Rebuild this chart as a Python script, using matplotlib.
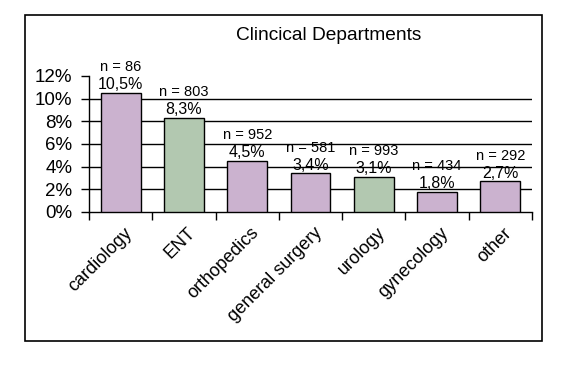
import numpy as np
import matplotlib
matplotlib.use('Agg')
import matplotlib.pyplot as plt
from matplotlib.patches import Rectangle

plt.rcParams['font.family'] = ['Liberation Sans', 'DejaVu Sans']

departments = ['cardiology', 'ENT', 'orthopedics', 'general surgery',
               'urology', 'gynecology', 'other']
rates = [10.5, 8.3, 4.5, 3.4, 3.1, 1.8, 2.7]   # percent
n_cases = [86, 803, 952, 581, 993, 434, 292]
pct_labels = ['10,5%', '8,3%', '4,5%', '3,4%', '3,1%', '1,8%', '2,7%']

lavender = '#cbb2cf'
green = '#b2c8b0'
bar_colors = [lavender, green, lavender, lavender, green, lavender, lavender]

fig = plt.figure(figsize=(5.8, 3.67), dpi=100)
fig.patch.set_facecolor('white')

# outer chart border
fig.add_artist(Rectangle((25/580, 1-341/367), 517/580, 326/367,
                         transform=fig.transFigure, fill=False,
                         edgecolor='black', linewidth=1.2))

ax = fig.add_axes([89/580, 1-212/367, 443/580, 136/367])
x = np.arange(len(departments))
ax.bar(x, rates, width=0.63, color=bar_colors, edgecolor='black',
       linewidth=1.0, zorder=3)

for xi, v, n, p in zip(x, rates, n_cases, pct_labels):
    ax.text(xi, v + 0.05, p, ha='center', va='bottom', fontsize=11.5, zorder=4)
    ax.text(xi, v + 1.65, 'n = %d' % n, ha='center', va='bottom', fontsize=10.5, zorder=4)

ax.set_xlim(-0.5, len(departments) - 0.5)
ax.set_ylim(0, 12)
ax.set_yticks(range(0, 13, 2))
ax.set_yticklabels(['%d%%' % t for t in range(0, 13, 2)], fontsize=13.5)
for t in range(2, 12, 2):
    ax.axhline(t, color='black', linewidth=1.0, zorder=1)

ax.set_xticks(np.arange(-0.5, len(departments), 1.0))
ax.set_xticklabels([])
ax.set_xticks(x + 0.05, minor=True)
ax.set_xticklabels(departments, minor=True, rotation=45, ha='right',
                   rotation_mode='anchor', fontsize=13)
ax.tick_params(axis='x', which='minor', length=0, pad=9)
ax.tick_params(axis='x', which='major', length=6, width=1.0, direction='out')
ax.tick_params(axis='y', length=6, width=1.0, direction='out', pad=6)

for side in ['top', 'right']:
    ax.spines[side].set_visible(False)
for side in ['left', 'bottom']:
    ax.spines[side].set_linewidth(1.0)

fig.text(329/580, 1-35/367, 'Clincical Departments', ha='center', va='center',
         fontsize=13.8)

fig.savefig('out.png', dpi=100)
